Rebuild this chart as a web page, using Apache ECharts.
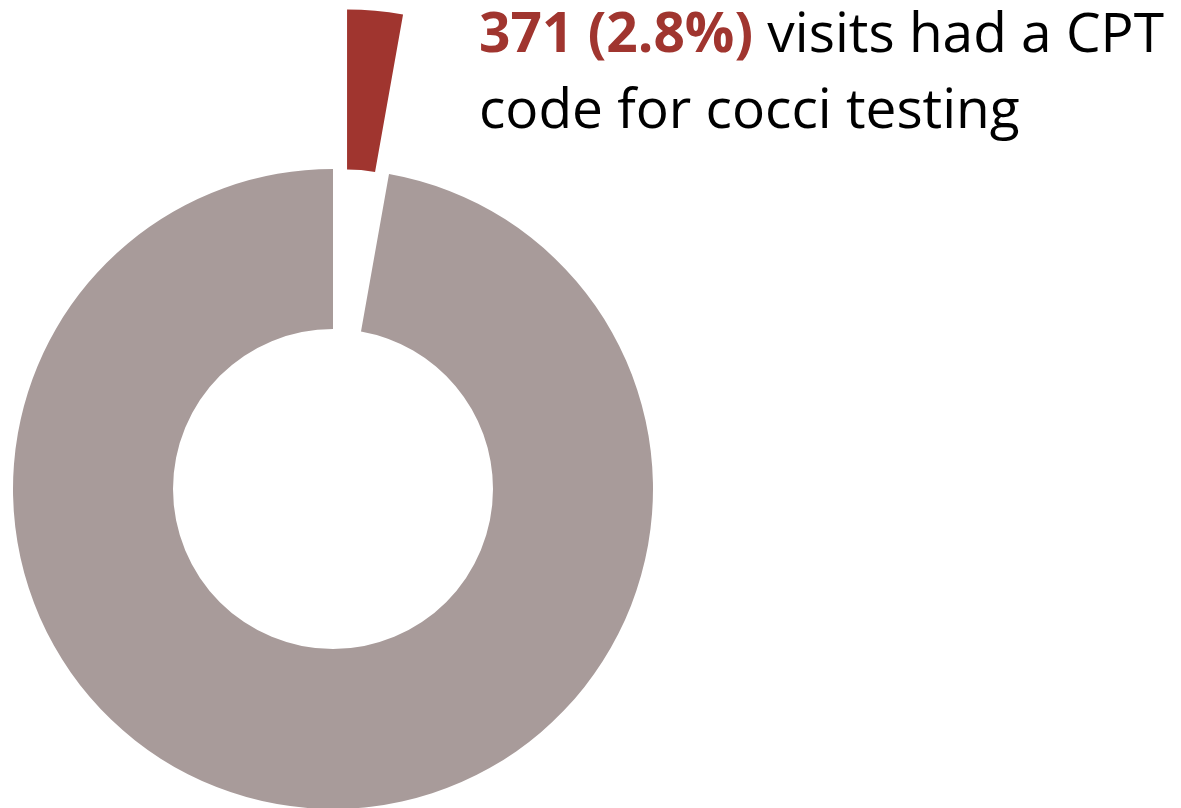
<!DOCTYPE html>
<html>
<head>
<meta charset="utf-8">
<script src="https://cdn.jsdelivr.net/npm/echarts@6/dist/echarts.min.js"></script>
<style>
  html, body { margin: 0; padding: 0; background: #fff; }
  #chart { width: 1181px; height: 808px; }
</style>
</head>
<body>
<div id="chart"></div>
<script>
const sliceNames = ['Cocci testing CPT', 'No cocci testing CPT'];
const sliceValues = [371, 12879];
const sliceColors = ['#A0352F', '#A89B9A'];

const chart = echarts.init(document.getElementById('chart'));

const option = {
  animation: false,
  title: {
    left: 474,
    top: -7,
    text: '{hi|371 (2.8%)}{txt| visits had a CPT}\n{txt|code for cocci testing}',
    textStyle: {
      fontWeight: 'normal',
      fontSize: 55,
      fontFamily: 'Open Sans',
      rich: {
        hi: {
          fontFamily: 'Open Sans',
          fontWeight: 'bold',
          fontSize: 55,
          lineHeight: 76,
          color: '#A0352F',
        },
        txt: {
          fontFamily: 'Open Sans',
          fontWeight: 'normal',
          fontSize: 55,
          lineHeight: 76,
          color: '#000',
        },
      },
    },
  },
  series: [
    {
      type: 'pie',
      center: [333, 489],
      radius: [160, 320],
      startAngle: 90,
      clockwise: true,
      selectedMode: 'single',
      selectedOffset: 160,
      label: { show: false },
      labelLine: { show: false },
      emphasis: { disabled: true },
      data: sliceNames.map((name, i) => ({
        name,
        value: sliceValues[i],
        selected: i === 0,
        itemStyle: { color: sliceColors[i] },
      })),
    },
  ],
};

chart.setOption(option);
</script>
</body>
</html>
